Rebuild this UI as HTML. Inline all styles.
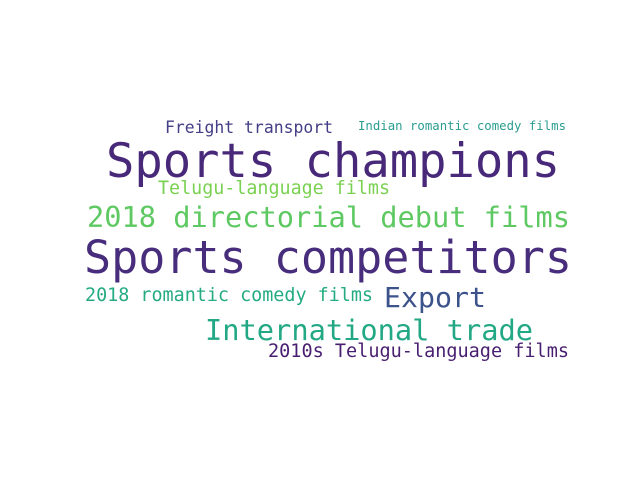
<!DOCTYPE html>
<html><head><meta charset="utf-8"><style>
html,body{margin:0;padding:0;background:#fff;}
svg text{font-family:"DejaVu Sans Mono","Liberation Mono",monospace;}
</style></head><body>
<svg width="640" height="480">
<text x="165" y="133" font-size="16.4" fill="#433e85" textLength="168" lengthAdjust="spacingAndGlyphs">Freight transport</text>
<text x="358" y="130" font-size="12.3" fill="#2a9d8f" textLength="208" lengthAdjust="spacingAndGlyphs">Indian romantic comedy films</text>
<text x="106" y="177" font-size="47" fill="#482878" textLength="454" lengthAdjust="spacingAndGlyphs">Sports champions</text>
<text x="158" y="194" font-size="18.3" fill="#7ad151" textLength="232" lengthAdjust="spacingAndGlyphs">Telugu-language films</text>
<text x="87" y="227" font-size="28.7" fill="#5ec962" textLength="483" lengthAdjust="spacingAndGlyphs">2018 directorial debut films</text>
<text x="84" y="273" font-size="45" fill="#472d7b" textLength="488" lengthAdjust="spacingAndGlyphs">Sports competitors</text>
<text x="85" y="301" font-size="18.4" fill="#25ab82" textLength="288" lengthAdjust="spacingAndGlyphs">2018 romantic comedy films</text>
<text x="384" y="307" font-size="28" fill="#3b528b" textLength="102" lengthAdjust="spacingAndGlyphs">Export</text>
<text x="205" y="340" font-size="28.7" fill="#22a884" textLength="328" lengthAdjust="spacingAndGlyphs">International trade</text>
<text x="268" y="357" font-size="18.5" fill="#481f70" textLength="301" lengthAdjust="spacingAndGlyphs">2010s Telugu-language films</text>
</svg>
</body></html>
